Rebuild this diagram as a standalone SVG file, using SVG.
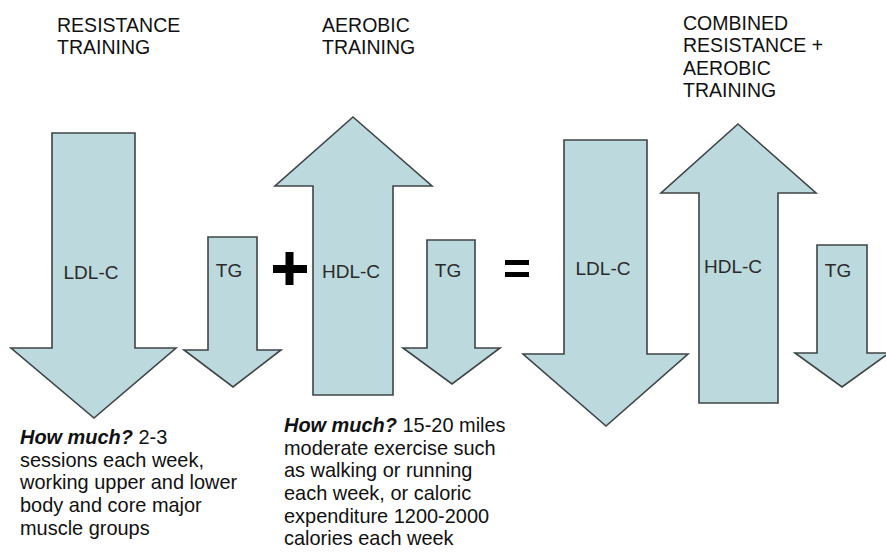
<svg xmlns="http://www.w3.org/2000/svg" width="886" height="552" viewBox="0 0 886 552">
  <style>
    .arrow { fill: #bcd9de; stroke: #3f4446; stroke-width: 1.6; stroke-linejoin: miter; }
    .head { font-family: "Liberation Sans", Arial, sans-serif; font-size: 21px; fill: #111; }
    .lbl { font-family: "Liberation Sans", Arial, sans-serif; font-size: 19px; fill: #2a2a2a; text-anchor: middle; }
    .body { font-family: "Liberation Sans", Arial, sans-serif; font-size: 21px; fill: #111; }
    .em { font-weight: bold; font-style: italic; }
    .op { fill: #000; }
  </style>
  <rect width="886" height="552" fill="#ffffff"/>

  <!-- column headings -->
  <g id="heading-resistance" class="head" transform="translate(57,0) scale(0.93,1)">
    <text x="0" y="32">RESISTANCE</text>
    <text x="0" y="54.5">TRAINING</text>
  </g>
  <g id="heading-aerobic" class="head" transform="translate(322,0) scale(0.93,1)">
    <text x="0" y="32">AEROBIC</text>
    <text x="0" y="54.5">TRAINING</text>
  </g>
  <g id="heading-combined" class="head" transform="translate(683,0) scale(0.93,1)">
    <text x="0" y="30">COMBINED</text>
    <text x="0" y="52.5">RESISTANCE +</text>
    <text x="0" y="75">AEROBIC</text>
    <text x="0" y="97.5">TRAINING</text>
  </g>

  <!-- resistance training arrows -->
  <g id="res-ldl">
    <polygon class="arrow" points="52,133 135,133 135,348 176,348 94,418 11,348 52,348"/>
    <text class="lbl" x="91" y="279">LDL-C</text>
  </g>
  <g id="res-tg">
    <polygon class="arrow" points="208,237 257,237 257,350 281,350 233,387 184,350 208,350"/>
    <text class="lbl" x="229" y="277">TG</text>
  </g>

  <!-- plus sign -->
  <g id="plus" class="op">
    <rect x="273" y="265" width="34" height="8"/>
    <rect x="285.5" y="252" width="8" height="33"/>
  </g>

  <!-- aerobic training arrows -->
  <g id="aer-hdl">
    <polygon class="arrow" points="353,117 432,186 393,186 393,395 313,395 313,186 275,186"/>
    <text class="lbl" x="351" y="278">HDL-C</text>
  </g>
  <g id="aer-tg">
    <polygon class="arrow" points="427,240 475,240 475,348 500,348 452,384 403,348 427,348"/>
    <text class="lbl" x="448" y="277">TG</text>
  </g>

  <!-- equals sign -->
  <g id="equals" class="op">
    <rect x="505" y="260" width="24" height="5"/>
    <rect x="505" y="272" width="24" height="5"/>
  </g>

  <!-- combined training arrows -->
  <g id="comb-ldl">
    <polygon class="arrow" points="564,140 647,140 647,354 688,354 606,426 523,354 564,354"/>
    <text class="lbl" x="603" y="275">LDL-C</text>
  </g>
  <g id="comb-hdl">
    <polygon class="arrow" points="738,124 816,193 778,193 778,403 699,403 699,193 661,193"/>
    <text class="lbl" x="733" y="273">HDL-C</text>
  </g>
  <g id="comb-tg">
    <polygon class="arrow" points="817,245 867,245 867,353 889,353 842,387 795,353 817,353"/>
    <text class="lbl" x="838" y="277">TG</text>
  </g>

  <!-- dosage notes -->
  <g id="note-resistance" class="body" transform="translate(20,0) scale(0.95,1)">
    <text x="0" y="444"><tspan class="em">How much?</tspan> 2-3</text>
    <text x="0" y="466.7">sessions each week,</text>
    <text x="0" y="489.4">working upper and lower</text>
    <text x="0" y="512">body and core major</text>
    <text x="0" y="534.7">muscle groups</text>
  </g>
  <g id="note-aerobic" class="body" transform="translate(284,0) scale(0.95,1)">
    <text x="0" y="432">
      <tspan class="em">How much?</tspan> 15-20 miles</text>
    <text x="0" y="455">moderate exercise such</text>
    <text x="0" y="477.5">as walking or running</text>
    <text x="0" y="500">each week, or caloric</text>
    <text x="0" y="523">expenditure 1200-2000</text>
    <text x="0" y="545.5">calories each week</text>
  </g>
</svg>
